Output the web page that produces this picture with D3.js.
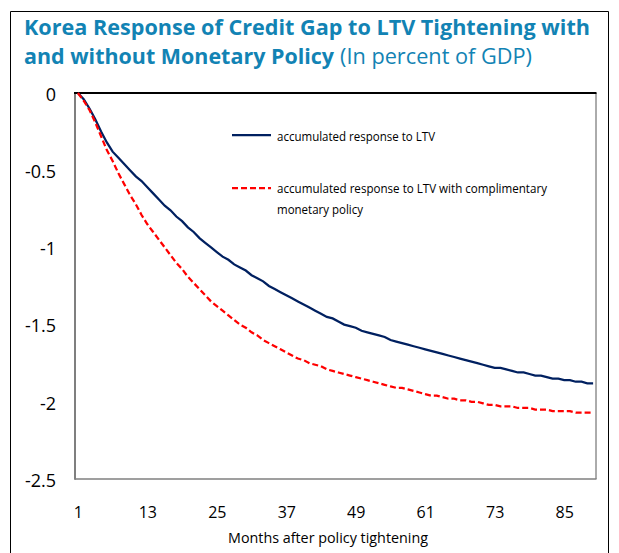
<!DOCTYPE html>
<html>
<head>
<meta charset="utf-8">
<script src="https://cdn.jsdelivr.net/npm/d3@7"></script>
<style>
  body { margin: 0; background: #fff; }
  svg { font-family: "Open Sans", "Noto Sans", sans-serif; }
</style>
</head>
<body>
<div id="chart"></div>
<script>
// Months after tightening (1..90)
const months = d3.range(1, 91);

// accumulated response to LTV
const ltvOnly = [
  0.00, -0.04, -0.10, -0.17, -0.25, -0.32, -0.38, -0.42, -0.46, -0.50,
  -0.54, -0.57, -0.61, -0.65, -0.69, -0.73, -0.76, -0.80, -0.83, -0.87,
  -0.90, -0.94, -0.97, -1.00, -1.03, -1.06, -1.08, -1.11, -1.13, -1.15,
  -1.18, -1.20, -1.22, -1.25, -1.27, -1.29, -1.31, -1.33, -1.35, -1.37,
  -1.39, -1.41, -1.43, -1.45, -1.46, -1.48, -1.50, -1.51, -1.52, -1.54,
  -1.55, -1.56, -1.57, -1.58, -1.60, -1.61, -1.62, -1.63, -1.64, -1.65,
  -1.66, -1.67, -1.68, -1.69, -1.70, -1.71, -1.72, -1.73, -1.74, -1.75,
  -1.76, -1.77, -1.78, -1.78, -1.79, -1.80, -1.81, -1.81, -1.82, -1.83,
  -1.83, -1.84, -1.85, -1.85, -1.86, -1.86, -1.87, -1.87, -1.88, -1.88
];

// accumulated response to LTV with complimentary monetary policy
const ltvWithMp = [
  0.00, -0.05, -0.11, -0.19, -0.28, -0.37, -0.44, -0.52, -0.59, -0.66,
  -0.72, -0.79, -0.85, -0.90, -0.95, -1.00, -1.05, -1.10, -1.14, -1.19,
  -1.23, -1.27, -1.31, -1.35, -1.38, -1.41, -1.44, -1.47, -1.50, -1.52,
  -1.55, -1.57, -1.60, -1.62, -1.64, -1.66, -1.68, -1.70, -1.72, -1.73,
  -1.75, -1.76, -1.77, -1.79, -1.80, -1.81, -1.82, -1.83, -1.84, -1.85,
  -1.86, -1.87, -1.88, -1.89, -1.90, -1.91, -1.91, -1.92, -1.93, -1.94,
  -1.95, -1.96, -1.96, -1.97, -1.98, -1.98, -1.99, -1.99, -2.00, -2.00,
  -2.01, -2.02, -2.02, -2.03, -2.03, -2.03, -2.04, -2.04, -2.04, -2.05,
  -2.05, -2.05, -2.06, -2.06, -2.06, -2.06, -2.07, -2.07, -2.07, -2.07
];

const xTicks = [1, 13, 25, 37, 49, 61, 73, 85];
const yTicks = [0, -0.5, -1, -1.5, -2, -2.5];

const W = 619, H = 553;
const plot = {left: 75, top: 93, right: 596, bottom: 479};

const svg = d3.select('#chart').append('svg')
  .attr('width', W)
  .attr('height', H);

// outer frame
svg.append('path')
  .attr('d', `M10.5,${H} V11.5 H608.5 V${H}`)
  .attr('fill', 'none')
  .attr('stroke', '#000')
  .attr('stroke-width', 1);

// title
const titleColor = '#1283b4';
svg.append('text')
  .attr('x', 24).attr('y', 35)
  .attr('fill', titleColor)
  .style('font-size', '21px').style('font-weight', 'bold')
  .attr('textLength', 566).attr('lengthAdjust', 'spacingAndGlyphs')
  .text('Korea Response of Credit Gap to LTV Tightening with');
svg.append('text')
  .attr('x', 24).attr('y', 64)
  .attr('fill', titleColor)
  .style('font-size', '21px').style('font-weight', 'bold')
  .attr('textLength', 310).attr('lengthAdjust', 'spacingAndGlyphs')
  .text('and without Monetary Policy');
svg.append('text')
  .attr('x', 340).attr('y', 64)
  .attr('fill', titleColor)
  .style('font-size', '21px')
  .attr('textLength', 192).attr('lengthAdjust', 'spacingAndGlyphs')
  .text('(In percent of GDP)');

// scales
const x = d3.scalePoint()
  .domain(months)
  .range([plot.left, plot.right])
  .padding(0.5);

const y = d3.scaleLinear()
  .domain([-2.5, 0])
  .range([plot.bottom, plot.top]);

// plot box
svg.append('line')
  .attr('x1', plot.right).attr('x2', plot.right)
  .attr('y1', plot.top).attr('y2', plot.bottom)
  .attr('stroke', '#595959').attr('stroke-width', 1);
svg.append('line')
  .attr('x1', plot.left).attr('x2', plot.right + 0.5)
  .attr('y1', plot.bottom).attr('y2', plot.bottom)
  .attr('stroke', '#7f7f7f').attr('stroke-width', 1.5);
svg.append('line')
  .attr('x1', plot.left).attr('x2', plot.left)
  .attr('y1', plot.top).attr('y2', plot.bottom + 0.75)
  .attr('stroke', '#7f7f7f').attr('stroke-width', 2);
svg.append('line')
  .attr('x1', plot.left - 1).attr('x2', plot.right + 0.5)
  .attr('y1', plot.top).attr('y2', plot.top)
  .attr('stroke', '#000').attr('stroke-width', 2);

// axes (labels only)
const yAxis = svg.append('g')
  .attr('transform', 'translate(56,0)')
  .call(d3.axisLeft(y).tickValues(yTicks).tickSize(0).tickPadding(0).tickFormat(d => String(d)));
yAxis.select('.domain').remove();
yAxis.selectAll('text')
  .style('font-family', '"Open Sans", sans-serif')
  .style('font-size', '18px')
  .attr('fill', '#000')
  .attr('dy', '0.4em');

const xAxis = svg.append('g')
  .attr('transform', `translate(0,${plot.bottom})`)
  .call(d3.axisBottom(x).tickValues(xTicks).tickSize(0).tickPadding(0));
xAxis.select('.domain').remove();
xAxis.selectAll('text')
  .style('font-family', '"Open Sans", sans-serif')
  .style('font-size', '16px')
  .attr('fill', '#000')
  .attr('y', 39)
  .attr('dy', 0);

svg.append('text')
  .attr('x', 328).attr('y', 543)
  .attr('text-anchor', 'middle')
  .style('font-size', '14px')
  .attr('textLength', 200).attr('lengthAdjust', 'spacingAndGlyphs')
  .text('Months after policy tightening');

// lines
const line = d3.line()
  .x((d, i) => x(months[i]))
  .y(d => y(d));

svg.append('path')
  .datum(ltvOnly)
  .attr('fill', 'none')
  .attr('stroke', '#002060')
  .attr('stroke-width', 2.25)
  .attr('d', line);

svg.append('path')
  .datum(ltvWithMp)
  .attr('fill', 'none')
  .attr('stroke', '#ff0000')
  .attr('stroke-width', 2.25)
  .attr('stroke-dasharray', '6,3')
  .attr('d', line);

// legend
const legend = svg.append('g');
legend.append('line')
  .attr('x1', 232).attr('x2', 271).attr('y1', 135).attr('y2', 135)
  .attr('stroke', '#002060').attr('stroke-width', 2.25);
legend.append('text')
  .attr('x', 277).attr('y', 141)
  .style('font-size', '13px')
  .attr('textLength', 158).attr('lengthAdjust', 'spacingAndGlyphs')
  .text('accumulated response to LTV');
legend.append('line')
  .attr('x1', 232).attr('x2', 271).attr('y1', 188).attr('y2', 188)
  .attr('stroke', '#ff0000').attr('stroke-width', 2.25)
  .attr('stroke-dasharray', '6,3');
legend.append('text')
  .attr('x', 277).attr('y', 193)
  .style('font-size', '13px')
  .attr('textLength', 270).attr('lengthAdjust', 'spacingAndGlyphs')
  .text('accumulated response to LTV with complimentary');
legend.append('text')
  .attr('x', 277).attr('y', 214)
  .style('font-size', '13px')
  .attr('textLength', 86).attr('lengthAdjust', 'spacingAndGlyphs')
  .text('monetary policy');
</script>
</body>
</html>
